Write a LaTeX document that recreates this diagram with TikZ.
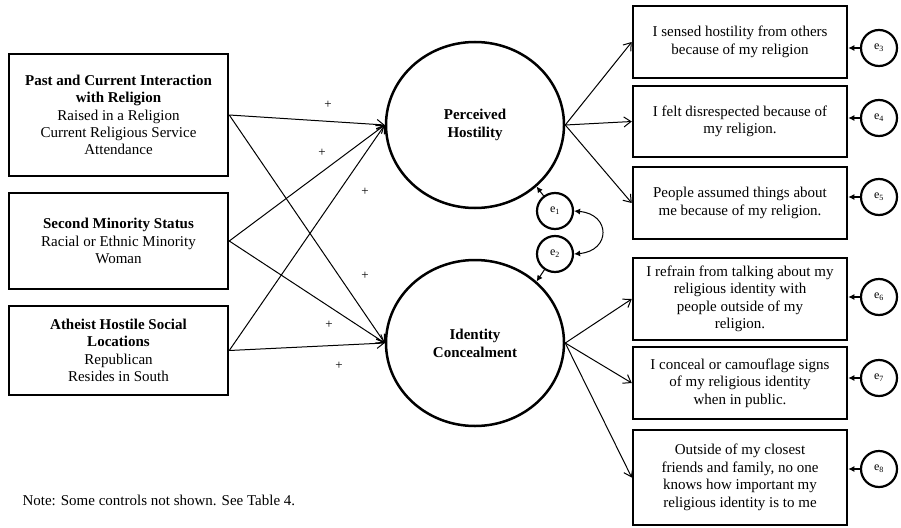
\documentclass[tikz,border=0pt]{standalone}
\usepackage{fontspec}
\setmainfont{Liberation Serif}
\usetikzlibrary{arrows.meta,shapes.geometric}
\tikzset{
  predbox/.style={draw, line width=2.5pt, align=center, inner sep=2pt,
    minimum width=219pt, font=\fontsize{15}{17.3}\selectfont},
  itembox/.style={draw, line width=2.5pt, align=center, inner sep=2pt,
    minimum width=214pt, font=\fontsize{15}{17.5}\selectfont},
  latent/.style={draw, ellipse, line width=2.5pt, inner sep=0pt,
    minimum width=178pt, minimum height=166pt, align=center,
    font=\bfseries\fontsize{15}{18}\selectfont},
  errc/.style={draw, circle, line width=2.2pt, minimum size=36pt, inner sep=0pt,
    font=\fontsize{12}{14}\selectfont},
  effect/.style={-{Straight Barb[length=7pt,width=10pt]}, line width=1pt},
  errpath/.style={-{Latex[length=6pt,width=6pt]}, line width=1.4pt},
  plus/.style={font=\fontsize{13}{14}\selectfont, inner sep=0pt}
}
\begin{document}
\begin{tikzpicture}[x=1pt, y=-1pt]
    \useasboundingbox (0,0) rectangle (901,527);

    % Predictors
    \node[predbox, minimum height=122pt] (past) at (118.5,115)
        {\textbf{Past and Current Interaction}\\\textbf{with Religion}\\Raised in a Religion\\Current Religious Service\\Attendance};
    \node[predbox, minimum height=96pt] (minor) at (118.5,241)
        {\textbf{Second Minority Status}\\Racial or Ethnic Minority\\Woman};
    \node[predbox, minimum height=89pt] (hostile) at (118.5,350.5)
        {\textbf{Atheist Hostile Social}\\\textbf{Locations}\\Republican\\Resides in South};

    % Latent variables
    \node[latent] (ph) at (475,125) {Perceived\\Hostility};
    \node[latent] (ic) at (475,343) {Identity\\Concealment};

    % Paths from predictors
    \foreach \p in {past, minor, hostile} {
        \draw[effect] (\p.east) -- (ph.west);
        \draw[effect] (\p.east) -- (ic.west);
    }

    % Signs
    \node[plus] (p1) at (328,105) {+};
    \node[plus] (p2) at (322,153) {+};
    \node[plus] (p3) at (365,192) {+};
    \node[plus] (p4) at (365,276) {+};
    \node[plus] (p5) at (329,325) {+};
    \node[plus] (p6) at (339,366) {+};

    % Disturbances
    \node[errc] (e1) at (555,211) {e\textsubscript{1}};
    \node[errc] (e2) at (555,254) {e\textsubscript{2}};
    \draw[errpath, line width=1pt] (e1) -- (ph.-45);
    \draw[errpath, line width=1pt] (e2) -- (ic.45);
    \draw[{Latex[length=6pt,width=6pt]}-{Latex[length=6pt,width=6pt]}, line width=1pt]
        (e1.east) to[out=-5, in=5, looseness=2.2] (e2.east);

    % Indicators
    \node[itembox, minimum height=72pt] (b3) at (740,42)
        {I sensed hostility from others\\because of my religion};
    \node[itembox, minimum height=71pt] (b4) at (740,121.5)
        {I felt disrespected because of\\my religion.};
    \node[itembox, minimum height=72pt] (b5) at (740,203)
        {People assumed things about\\me because of my religion.};
    \node[itembox, minimum height=82pt] (b6) at (740,299)
        {I refrain from talking about my\\religious identity with\\people outside of my\\religion.};
    \node[itembox, minimum height=72pt] (b7) at (740,383)
        {I conceal or camouflage signs\\of my religious identity\\when in public.};
    \node[itembox, minimum height=95pt] (b8) at (740,477.5)
        {Outside of my closest\\friends and family, no one\\knows how important my\\religious identity is to me};

    \foreach \b in {b3, b4, b5} \draw[effect] (ph.east) -- (\b.west);
    \foreach \b in {b6, b7, b8} \draw[effect] (ic.east) -- (\b.west);

    % Measurement errors
    \foreach \i/\y in {3/48, 4/118, 5/197, 6/297, 7/378, 8/469} {
        \node[errc] (e\i) at (879,\y) {e\textsubscript{\i}};
        \draw[errpath] (e\i.west) -- (e\i.west -| b\i.east);
    }

    \node[anchor=west, font=\fontsize{15}{17}\selectfont] (note) at (19,500)
        {Note: Some controls not shown. See Table 4.};
\end{tikzpicture}
\end{document}
